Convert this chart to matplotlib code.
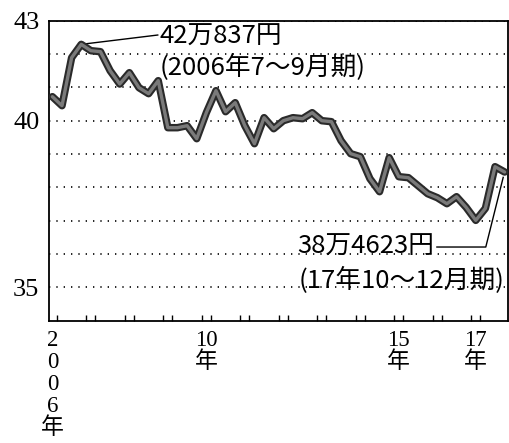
import matplotlib.pyplot as plt

# quarterly average income (10,000 yen), 2006 Q1 .. 2017 Q4
quarters = list(range(48))
income = [40.72, 40.45, 41.89, 42.29, 42.10, 42.07, 41.50, 41.10, 41.44, 40.99,
          40.81, 41.20, 39.79, 39.79, 39.85, 39.46, 40.24, 40.90, 40.27, 40.54,
          39.85, 39.31, 40.09, 39.76, 40.00, 40.09, 40.06, 40.24, 40.00, 39.97,
          39.40, 39.01, 38.92, 38.26, 37.87, 38.89, 38.32, 38.29, 38.05, 37.81,
          37.69, 37.51, 37.72, 37.40, 37.01, 37.37, 38.62, 38.46]

year_label_pos = [0, 16, 36, 44]
year_labels = ['2\n0\n0\n6\n年', '10\n年', '15\n年', '17\n年']
y_ticks = [35, 36, 37, 38, 39, 40, 41, 42, 43]
y_labels = ['35', '', '', '', '', '40', '', '', '43']

serif = ['Liberation Serif', 'Noto Sans CJK JP']
gothic = ['Noto Sans CJK JP', 'DejaVu Sans']

fig = plt.figure(figsize=(5.10, 4.43), dpi=100)
ax = fig.add_axes([0.0961, 0.2761, 0.9, 0.6772])

# thick halftone-like line
ax.plot(quarters, income, color='#2a2a2a', lw=5.4, solid_joinstyle='round',
        solid_capstyle='round', zorder=3)
ax.plot(quarters, income, color='#7a7a7a', lw=2.4, solid_joinstyle='round',
        solid_capstyle='round', zorder=4)

ax.set_xlim(-0.35, 47.35)
ax.set_ylim(34, 43)

ax.set_yticks(y_ticks)
ax.set_yticklabels(y_labels, family=serif, fontsize=19)
ax.tick_params(axis='y', length=0, pad=7)
ax.yaxis.grid(True, linestyle=(0, (0.8, 3.6)), color='black', lw=1.2)
ax.set_axisbelow(True)

# paired tick marks around each year boundary
tick_pos = [0.48]
for k in range(1, 12):
    tick_pos += [4 * k - 0.48, 4 * k + 0.48]
ax.set_xticks(tick_pos)
ax.set_xticklabels([])
ax.tick_params(axis='x', direction='in', length=4, width=1)

for p, lab in zip(year_label_pos, year_labels):
    ax.text(p, -0.03, lab, transform=ax.get_xaxis_transform(), ha='center',
            va='top', family=serif, fontsize=16.5, linespacing=1.06)

for s in ax.spines.values():
    s.set_linewidth(1.3)

# annotations
ax.plot([3, 10.95], [42.29, 42.57], color='black', lw=1)
ax.text(11.1, 42.51, '42万837円', family=gothic, fontsize=18.5, va='center', ha='left')
ax.text(11.1, 41.61, '(2006年7～9月期)', family=gothic, fontsize=18.5, va='center', ha='left')

ax.plot([39.96, 45.04, 46.85], [36.21, 36.21, 38.3], color='black', lw=1)
ax.text(25.4, 36.21, '38万4623円', family=gothic, fontsize=18.5, va='center', ha='left')
ax.text(25.55, 35.22, '(17年10～12月期)', family=gothic, fontsize=18.5, va='center', ha='left')

fig.savefig('out.png', dpi=100)
